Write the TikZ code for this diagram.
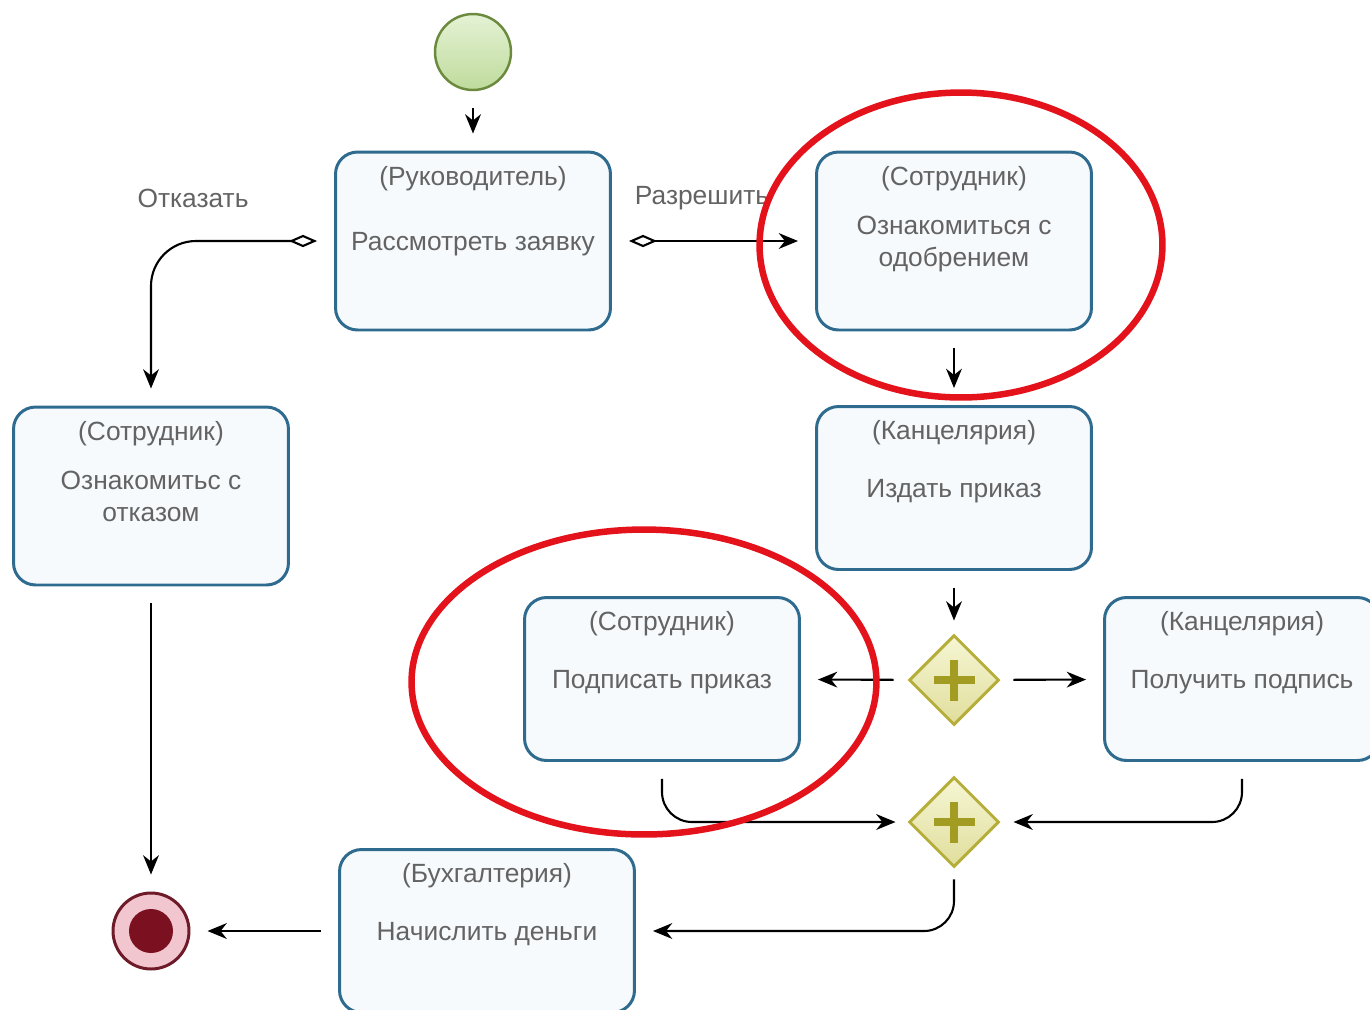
\documentclass[tikz,border=0pt]{standalone}
\usepackage{fontspec}
\setmainfont{Liberation Sans}
\usetikzlibrary{shapes.geometric,arrows.meta}
\definecolor{taskline}{HTML}{2E6B8E}
\definecolor{taskfill}{HTML}{F7FAFD}
\definecolor{txtgray}{HTML}{636363}
\definecolor{startline}{HTML}{6B8A3E}
\definecolor{starttop}{HTML}{E4F2D4}
\definecolor{startbot}{HTML}{BFDB9C}
\definecolor{endline}{HTML}{6E1A28}
\definecolor{endfill}{HTML}{F2C6CE}
\definecolor{enddot}{HTML}{7A1020}
\definecolor{gwline}{HTML}{B5AE3A}
\definecolor{gwtop}{HTML}{F6F6D4}
\definecolor{gwbot}{HTML}{E0DE9C}
\definecolor{gwplus}{HTML}{A39C22}
\definecolor{hired}{HTML}{E3121B}

\begin{document}
\begin{tikzpicture}[x=0.02cm, y=-0.02cm, >={Stealth[length=11pt,width=9pt]},
  font=\fontsize{15}{18}\selectfont, text=txtgray,
  task/.style={draw=taskline, line width=1.7pt, fill=taskfill, rounded corners=0.44cm,
    minimum width=5.5cm, minimum height=3.56cm, align=center, text depth=0pt},
  role/.style={label={[anchor=center,label distance=-0.56cm]north:#1}},
  gate/.style={diamond, draw=gwline, line width=1.7pt, top color=gwtop, bottom color=gwbot,
    minimum size=1.8cm, inner sep=0pt,
    path picture={\draw[draw=gwplus, line width=5pt]
      (path picture bounding box.center) ++(-0.41cm,0) -- ++(0.82cm,0)
      (path picture bounding box.center) ++(0,-0.41cm) -- ++(0,0.82cm);}},
  flow/.style={->, line width=1.2pt, shorten <=0.34cm, shorten >=0.34cm},
  cond/.style={flow, {Diamond[open,length=16pt,width=7pt]}->},
  hilite/.style={draw=hired, line width=3.7pt}]
\useasboundingbox (0,0) rectangle (1370,1009);
\clip (0,0) rectangle (1370,1009);

\node[circle, draw=startline, line width=1.4pt, top color=starttop, bottom color=startbot,
  minimum size=1.52cm] (s) at (473,52) {};
\node[task, role=(Руководитель)] (rev) at (473,241) {Рассмотреть заявку};
\node[task, role=(Сотрудник)] (ok) at (954,241) {Ознакомиться с\\одобрением};
\node[task, role=(Сотрудник)] (ref) at (151,496) {Ознакомитьс с\\отказом};
\node[task, role=(Канцелярия), minimum height=3.26cm] (iss) at (954,488) {Издать приказ};
\node[gate] (g1) at (954,680) {};
\node[task, role=(Сотрудник), minimum height=3.26cm] (sign) at (662,679) {Подписать приказ};
\node[task, role=(Канцелярия), minimum height=3.26cm] (get) at (1242,679) {Получить подпись};
\node[gate] (g2) at (954,822) {};
\node[task, role=(Бухгалтерия), minimum width=5.9cm, minimum height=3.26cm] (acc) at (487,931) {Начислить деньги};
\node[circle, draw=endline, line width=1.7pt, fill=endfill, minimum size=1.52cm,
  path picture={\fill[enddot] (path picture bounding box.center) circle (0.44cm);}] (e) at (151,931) {};

\draw[flow] (s) -- (rev);
\draw[cond, rounded corners=0.9cm] (rev.west) -| (ref.north);
\draw[cond] (rev.east) -- (ok.west);
\draw[flow] (ok) -- (iss);
\draw[flow, shorten >=0.26cm] (iss) -- (g1);
\draw[flow, shorten <=0.28cm] (g1) -- (sign);
\draw[flow, shorten <=0.26cm] (g1) -- (get);
\draw[flow, rounded corners=0.6cm, shorten >=0.24cm] (sign.south) |- (g2.west);
\draw[flow, rounded corners=0.6cm, shorten >=0.26cm] (get.south) |- (g2.east);
\draw[flow, rounded corners=0.6cm, shorten <=0.22cm] (g2.south) |- (acc.east);
\draw[flow] (acc) -- (e);
\draw[flow] (ref) -- (e);

\node (no) at (193,198) {Отказать};
\node (yes) at (702,198) {Разрешить};

\draw[hilite] (961,245) ellipse [x radius=4.03cm, y radius=3.05cm];
\draw[hilite] (644,682) ellipse [x radius=4.65cm, y radius=3.05cm];
\end{tikzpicture}
\end{document}
